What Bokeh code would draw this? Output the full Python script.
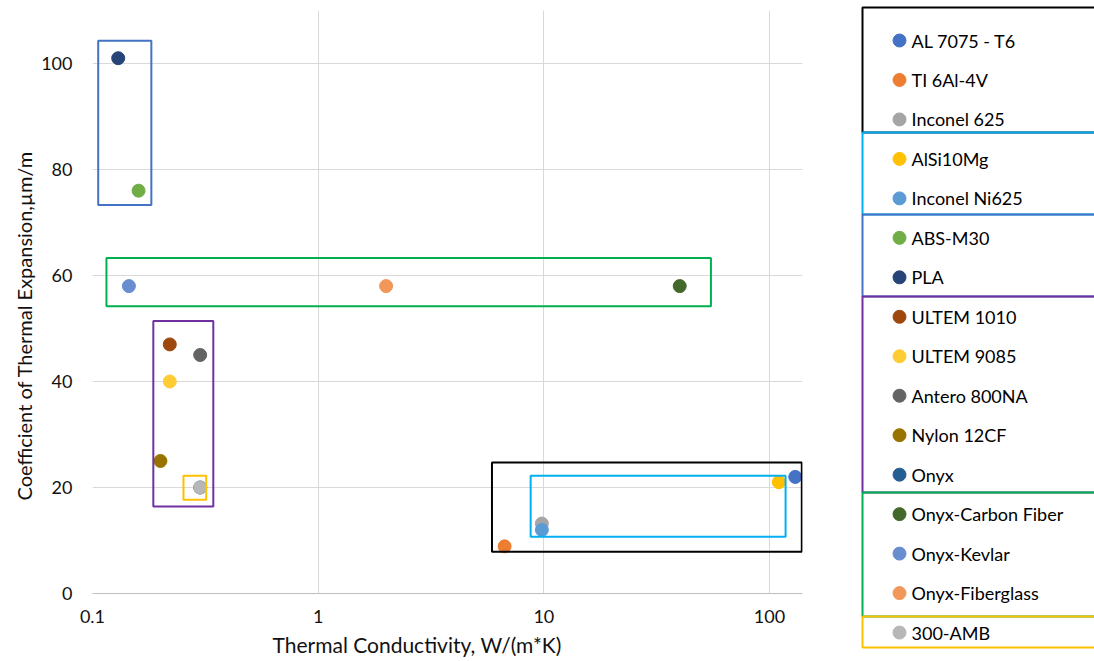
from bokeh.plotting import figure
from bokeh.models import Range1d, FixedTicker, CustomJSTickFormatter, ColumnDataSource, Title
from bokeh.layouts import row
from bokeh.embed import file_html
from bokeh.resources import INLINE
from bokeh.core.properties import value

# ---------------- data ----------------
materials = ["AL 7075 - T6", "TI 6Al-4V", "Inconel 625", "AlSi10Mg", "Inconel Ni625",
             "ABS-M30", "PLA", "ULTEM 1010", "ULTEM 9085", "Antero 800NA", "Nylon 12CF",
             "Onyx", "Onyx-Carbon Fiber", "Onyx-Kevlar", "Onyx-Fiberglass", "300-AMB"]
conductivity = [130, 6.7, 9.8, 110, 9.8, 0.16, 0.13, 0.22, 0.22, 0.3, 0.2, 0.3, 40, 0.145, 2.0, 0.3]
expansion = [22, 8.9, 13.2, 21, 12, 76, 101, 47, 40, 45, 25, 20, 58, 58, 58, 20]
colors = ["#4472C4", "#ED7D31", "#A5A5A5", "#FFC000", "#5B9BD5", "#70AD47", "#264478",
          "#9E480E", "#FFCD33", "#636363", "#997300", "#255E91", "#43682B", "#698ED0",
          "#F1975A", "#B7B7B7"]

# grouping boxes drawn on the chart (data coordinates)
box_colors = ["#4472C4", "#00B050", "#7030A0", "#FFC000", "#000000", "#00B0F0"]
box_left = [0.106, 0.1153, 0.186, 0.253, 5.89, 8.74]
box_right = [0.1823, 55.0, 0.343, 0.319, 139, 117.8]
box_top = [104.3, 63.3, 51.4, 22.2, 24.7, 22.2]
box_bottom = [73.3, 54.2, 16.4, 17.7, 7.9, 10.7]

# legend groups (first index, last index exclusive) and their frame colours
legend_groups = [(0, 3), (3, 5), (5, 7), (7, 12), (12, 15), (15, 16)]
legend_group_colors = ["#000000", "#00B0F0", "#4472C4", "#7030A0", "#00B050", "#FFC000"]
legend_group_edges = [7, 132, 214, 296, 492, 616, 647]

x_ticks = [0.1, 1, 10, 100]
y_ticks = [0, 20, 40, 60, 80, 100]
x_title = "Thermal Conductivity, W/(m*K)"
y_title = "Coefficient of Thermal Expansion,µm/m"

FONT = "Lato"
TXT = "#111111"

# ---------------- main chart ----------------
MW, H = 850, 661
p = figure(width=MW, height=H, x_axis_type="log",
           x_range=Range1d(0.1, 140), y_range=Range1d(0, 110),
           output_backend="svg", toolbar_location=None,
           min_border_left=92, min_border_right=48, min_border_top=10, min_border_bottom=68)
p.outline_line_color = None
p.background_fill_color = "white"
try:
    p.frame_align = False
except Exception:
    pass

p.xaxis.ticker = FixedTicker(ticks=x_ticks)
p.xaxis.formatter = CustomJSTickFormatter(code="return tick.toString();")
p.yaxis.ticker = FixedTicker(ticks=y_ticks)
p.xgrid.ticker = FixedTicker(ticks=x_ticks)
p.ygrid.ticker = FixedTicker(ticks=y_ticks)
p.grid.grid_line_color = "#D9D9D9"
p.grid.grid_line_width = 1
p.xgrid.minor_grid_line_color = None

for ax in (p.xaxis[0], p.yaxis[0]):
    ax.major_tick_line_color = None
    ax.minor_tick_line_color = None
    ax.major_tick_out = 0
    ax.major_tick_in = 0
    ax.minor_tick_out = 0
    ax.minor_tick_in = 0
    ax.major_label_text_font = FONT
    ax.major_label_text_font_size = "18px"
    ax.major_label_text_color = TXT

p.xaxis.axis_line_color = "#BFBFBF"
p.yaxis.axis_line_color = None
p.xaxis.major_label_standoff = 16
p.yaxis.major_label_standoff = 20

p.add_layout(Title(text=x_title, align="left", offset=180, standoff=8,
                   text_font=FONT, text_font_size="21px", text_font_style="normal",
                   text_color=TXT), "below")
p.add_layout(Title(text=y_title, align="left", offset=93, standoff=6,
                   text_font=FONT, text_font_size="20px", text_font_style="normal",
                   text_color=TXT), "left")

for i in range(len(materials)):
    p.scatter(x=[conductivity[i]], y=[expansion[i]], size=13, marker="circle",
              fill_color=colors[i], line_color=colors[i], line_width=1)

p.quad(left=box_left, right=box_right, top=box_top, bottom=box_bottom,
       fill_color=None, line_color=box_colors, line_width=2)

# ---------------- legend panel ----------------
W = 1094 - MW
lg = figure(width=W, height=H, x_range=Range1d(0, W), y_range=Range1d(H, 0),
            output_backend="svg", toolbar_location=None, min_border=0,
            x_axis_location=None, y_axis_location=None)
lg.grid.visible = False
lg.outline_line_color = None
try:
    lg.frame_align = False
except Exception:
    pass

step = 39.47
y0 = 40
ys = [y0 + step * i for i in range(len(materials))]
src = ColumnDataSource(dict(x=[49] * len(materials), tx=[61] * len(materials), y=ys,
                            c=colors, t=materials))
lg.scatter(x="x", y="y", size=13, fill_color="c", line_color="c", source=src)
lg.text(x="tx", y="y", text="t", source=src, text_font=value(FONT), text_font_size="18px",
        text_color="#000000", text_baseline="middle", text_align="left")

for g, (a, b) in enumerate(legend_groups):
    lg.quad(left=[12], right=[W + 20], top=[legend_group_edges[g]],
            bottom=[legend_group_edges[g + 1]], fill_color=None,
            line_color=legend_group_colors[g], line_width=2)

layout = row(p, lg)
open("out.html", "w").write(file_html(layout, INLINE))
